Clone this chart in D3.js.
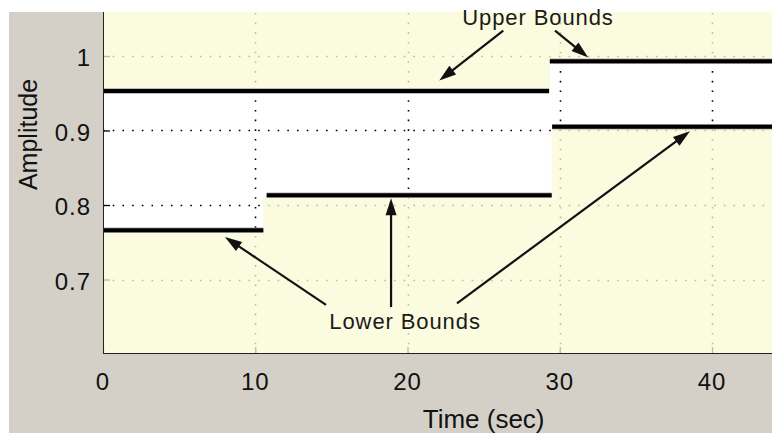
<!DOCTYPE html>
<html><head><meta charset="utf-8">
<script src="https://cdn.jsdelivr.net/npm/d3@7/dist/d3.min.js"></script>
<style>body{margin:0;background:#fff;}svg{display:block;}</style>
</head><body>
<script>
// ---- data ----
const upperBounds = [
  {x0: 0, x1: 29.3, y: 0.953},
  {x0: 29.35, x1: 50, y: 0.993}
];
const lowerBounds = [
  {x0: 0, x1: 10.53, y: 0.766},
  {x0: 10.75, x1: 29.47, y: 0.813},
  {x0: 29.5, x1: 50, y: 0.905}
];
const xTickValues = [0, 10, 20, 30, 40];
const xTickLabels = ["0", "10", "20", "30", "40"];
const yTickValues = [0.7, 0.8, 0.9, 1];
const yTickLabels = ["0.7", "0.8", "0.9", "1"];
const xDomain = [0, 50];
const yDomain = [0.6, 1.2];
const xLabel = "Time (sec)";
const yLabel = "Amplitude";
const annotations = [
  {text: "Upper Bounds", x: 28.57, y: 1.0416},
  {text: "Lower Bounds", x: 19.84, y: 0.6336}
];
const arrows = [
  {x1: 26.29, y1: 1.034, x2: 22.09, y2: 0.967},
  {x1: 29.69, y1: 1.034, x2: 31.87, y2: 0.998},
  {x1: 14.65, y1: 0.666, x2: 8.01, y2: 0.757},
  {x1: 18.92, y1: 0.663, x2: 18.92, y2: 0.809},
  {x1: 23.25, y1: 0.668, x2: 38.55, y2: 0.899}
];

// ---- layout ----
const W = 772, H = 433;
const plot = {left: 103, right: 864.25, top: -93, bottom: 354};
const visTop = 12, visLeft = 9;
const FONT = "'Liberation Sans', Arial, Helvetica, sans-serif";
const yellow = "#f9f9d4";

const x = d3.scaleLinear().domain(xDomain).range([plot.left, plot.right]);
const y = d3.scaleLinear().domain(yDomain).range([plot.bottom, plot.top]);
const px = v => Math.round(x(v)) + 0.5;
const py = v => Math.round(y(v)) + 0.5;

const svg = d3.select("body").append("svg").attr("width", W).attr("height", H);
svg.append("rect").attr("width", W).attr("height", H).attr("fill", "#fff");
svg.append("rect").attr("x", visLeft).attr("y", visTop).attr("width", W - visLeft).attr("height", H - visTop).attr("fill", "#d4d0c8");

const defs = svg.append("defs");
defs.append("clipPath").attr("id", "pc").append("rect")
  .attr("x", plot.left).attr("y", visTop).attr("width", W - plot.left).attr("height", plot.bottom - visTop);

const g = svg.append("g").attr("clip-path", "url(#pc)");
g.append("rect").attr("x", plot.left).attr("y", plot.top).attr("width", plot.right - plot.left).attr("height", plot.bottom - plot.top).attr("fill", "#fff");

// grid (dotted)
const grid = g.append("g").attr("stroke", "#000").attr("stroke-width", 1.6).attr("stroke-dasharray", "1.6,8.1");
grid.selectAll(".vg").data(xTickValues.slice(1)).join("line")
  .attr("x1", d => px(d)).attr("x2", d => px(d)).attr("y1", plot.bottom).attr("y2", plot.top);
grid.selectAll(".hg").data(yTickValues).join("line")
  .attr("y1", d => py(d)).attr("y2", d => py(d)).attr("x1", plot.left).attr("x2", plot.right);

// axes with inward ticks
const xAxis = d3.axisBottom(x).tickValues(xTickValues).tickSize(-7).tickFormat("");
const yAxis = d3.axisLeft(y).tickValues(yTickValues).tickSize(-7).tickFormat("");
const gx = g.append("g").attr("transform", `translate(0,${plot.bottom})`).call(xAxis);
const gy = g.append("g").attr("transform", `translate(${plot.left},0)`).call(yAxis);
[gx, gy].forEach(a => { a.select(".domain").remove(); a.selectAll(".tick line").attr("stroke", "#000").attr("stroke-width", 1.3); });

// constraint patches (semi-transparent yellow)
g.selectAll(".up").data(upperBounds).join("rect")
  .attr("x", d => x(d.x0)).attr("width", d => x(d.x1) - x(d.x0) + 1)
  .attr("y", plot.top).attr("height", d => y(d.y) - plot.top)
  .attr("fill", yellow).attr("fill-opacity", 0.75);
g.selectAll(".lo").data(lowerBounds).join("rect")
  .attr("x", (d, i) => i === 0 ? x(d.x0) : x(lowerBounds[i - 1].x1))
  .attr("width", (d, i) => x(d.x1) - (i === 0 ? x(d.x0) : x(lowerBounds[i - 1].x1)))
  .attr("y", d => y(d.y)).attr("height", d => plot.bottom - y(d.y))
  .attr("fill", yellow).attr("fill-opacity", 0.75);

// bound lines
const allBounds = upperBounds.concat(lowerBounds);
g.selectAll(".bo").data(allBounds).join("line")
  .attr("x1", d => x(d.x0)).attr("x2", d => x(d.x1)).attr("y1", d => y(d.y)).attr("y2", d => y(d.y))
  .attr("stroke", "#aaa").attr("stroke-width", 5.5);
g.selectAll(".bl").data(allBounds).join("line")
  .attr("x1", d => x(d.x0)).attr("x2", d => x(d.x1)).attr("y1", d => y(d.y)).attr("y2", d => y(d.y))
  .attr("stroke", "#000").attr("stroke-width", 4);

// axis lines
g.append("line").attr("x1", plot.left).attr("x2", plot.right).attr("y1", plot.bottom).attr("y2", plot.bottom)
  .attr("stroke", "#222").attr("stroke-width", 2);
g.append("line").attr("x1", plot.left).attr("x2", plot.left).attr("y1", plot.top).attr("y2", plot.bottom)
  .attr("stroke", "#222").attr("stroke-width", 2);

// tick labels
svg.append("g").selectAll("text").data(xTickValues).join("text")
  .attr("x", d => x(d)).attr("y", plot.bottom + 36).attr("text-anchor", "middle")
  .attr("font-family", FONT).attr("font-size", 24).attr("letter-spacing", 1).attr("fill", "#111")
  .text((d, i) => xTickLabels[i]);
svg.append("g").selectAll("text").data(yTickValues).join("text")
  .attr("x", plot.left - 12).attr("y", d => y(d) + 10).attr("text-anchor", "end")
  .attr("font-family", FONT).attr("font-size", 24).attr("letter-spacing", 1).attr("fill", "#111")
  .text((d, i) => yTickLabels[i]);

// axis labels
svg.append("text").attr("x", (plot.left + plot.right) / 2).attr("y", 428).attr("text-anchor", "middle")
  .attr("font-family", FONT).attr("font-size", 26).attr("fill", "#111").text(xLabel);
svg.append("text").attr("transform", `translate(37,${(plot.top + plot.bottom) / 2 + 4}) rotate(-90)`).attr("text-anchor", "middle")
  .attr("font-family", FONT).attr("font-size", 25).attr("fill", "#111").text(yLabel);

// white mask for region outside the screenshot frame
svg.append("rect").attr("x", 0).attr("y", 0).attr("width", W).attr("height", visTop).attr("fill", "#fff");
svg.append("rect").attr("x", 0).attr("y", 0).attr("width", visLeft).attr("height", H).attr("fill", "#fff");

// annotations: arrows
const ag = svg.append("g");
arrows.forEach(a => {
  const x1 = x(a.x1), y1 = y(a.y1), x2 = x(a.x2), y2 = y(a.y2);
  const dx = x2 - x1, dy = y2 - y1, L = Math.hypot(dx, dy);
  const ux = dx / L, uy = dy / L, hl = 17, hw = 5.5;
  const bx = x2 - ux * hl, by = y2 - uy * hl;
  ag.append("line").attr("x1", x1).attr("y1", y1).attr("x2", bx + ux * 2).attr("y2", by + uy * 2)
    .attr("stroke", "#111").attr("stroke-width", 2.2);
  ag.append("path")
    .attr("d", `M${x2},${y2}L${bx - uy * hw},${by + ux * hw}L${bx + uy * hw},${by - ux * hw}Z`)
    .attr("fill", "#111");
});
// annotation text
ag.selectAll("text").data(annotations).join("text")
  .attr("x", d => x(d.x)).attr("y", d => y(d.y)).attr("text-anchor", "middle")
  .attr("font-family", FONT).attr("font-size", 22).attr("letter-spacing", 0.9).attr("fill", "#1a1a1a")
  .text(d => d.text);
</script>
</body></html>
